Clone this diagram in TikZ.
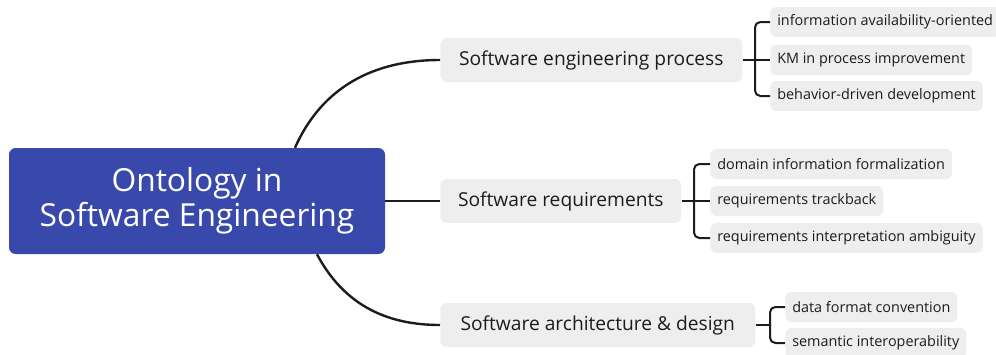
\documentclass[tikz,border=0pt]{standalone}
\usepackage{fontspec}
\setmainfont{Open Sans}
\usepackage{xcolor}
\usepackage{tikz}
\usetikzlibrary{positioning}
\definecolor{rootblue}{HTML}{3949AB}
\definecolor{topicgray}{HTML}{EEEEEE}
\definecolor{inkdark}{HTML}{1C1C1C}

\begin{document}
\begin{tikzpicture}[
        x=0.75pt, y=-0.75pt,
        rootbox/.style={
            rectangle,
            fill=rootblue,
            text=white,
            align=center,
            rounded corners=5pt,
            font=\fontsize{23.8pt}{26.5pt}\selectfont,
            minimum width=282pt,
            minimum height=79.5pt
        },
        topic/.style={
            rectangle,
            fill=topicgray,
            text=inkdark,
            anchor=west,
            rounded corners=5pt,
            font=\fontsize{14.4pt}{16pt}\selectfont,
            minimum height=33pt
        },
        subtopic/.style={
            rectangle,
            fill=topicgray,
            text=inkdark,
            anchor=west,
            rounded corners=4.5pt,
            font=\fontsize{10.8pt}{12pt}\selectfont,
            inner xsep=5.25pt,
            minimum height=22.5pt
        },
        branch/.style={
            draw=inkdark,
            line width=1.8pt
        },
        brace/.style={
            draw=inkdark,
            line width=1.5pt,
            rounded corners=4pt
        }
    ]
        \useasboundingbox (0,0) rectangle (996,354);

        % Root
        \node[rootbox] (root) at (197,201) {Ontology in\\Software Engineering};

        % Main topics
        \node[topic, minimum width=226.5pt] (proc) at (440,60) {Software engineering process};
        \node[topic, minimum width=180.75pt] (req) at (440,201) {Software requirements};
        \node[topic, minimum width=236.25pt] (arch) at (440,325) {Software architecture \& design};

        % Subtopics of the process
        \node[subtopic] (avail) at (770,22) {information availability-oriented};
        \node[subtopic] (km) at (770,60) {KM in process improvement};
        \node[subtopic] (bdd) at (770,96) {behavior-driven development};

        % Subtopics of the requirements
        \node[subtopic] (formal) at (710,164) {domain information formalization};
        \node[subtopic] (track) at (710,201) {requirements trackback};
        \node[subtopic] (ambig) at (710,238) {requirements interpretation ambiguity};

        % Subtopics of the architecture
        \node[subtopic] (format) at (785,307) {data format convention};
        \node[subtopic] (interop) at (785,343) {semantic interoperability};

        % Root to topics
        \draw[branch] ([xshift=73.5pt]root.north) to[out=66, in=180] (proc.west);
        \draw[branch] (root.east) -- (req.west);
        \draw[branch] ([xshift=90pt]root.south) to[out=-62, in=180] (arch.west);

        % Topics to subtopics
        \draw[brace] (proc.east) -- (km.west);
        \draw[brace] (avail.west) -| ([xshift=-11.25pt]km.west) |- (bdd.west);
        \draw[brace] (req.east) -- (track.west);
        \draw[brace] (formal.west) -| ([xshift=-12pt]track.west) |- (ambig.west);
        \coordinate (archfork) at ([xshift=-11.25pt]format.west |- arch.east);
        \draw[brace] (arch.east) -- (archfork);
        \draw[brace] (format.west) -| (archfork) |- (interop.west);
    \end{tikzpicture}
\end{document}
